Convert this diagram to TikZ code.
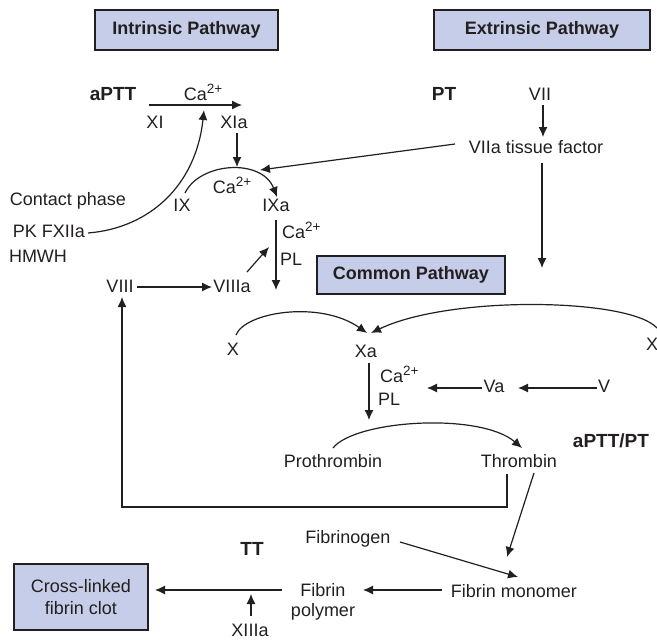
\documentclass[tikz,border=0pt]{standalone}
\usepackage{fontspec}
\setmainfont{Liberation Sans}
\usetikzlibrary{arrows.meta}
\definecolor{boxfill}{RGB}{197,205,232}
\definecolor{ink}{RGB}{35,31,32}
\newcommand{\catwo}{Ca\raisebox{0.36em}{\fontsize{13.5}{14}\selectfont 2+}}
\begin{document}
\begin{tikzpicture}[x=1pt,y=-1pt,
  font=\fontsize{18}{20}\selectfont,
  lbl/.style={inner sep=0pt, text=ink, anchor=base},
  lblw/.style={inner sep=0pt, text=ink, anchor=base west},
  bold/.style={lbl, font=\fontsize{19}{21}\selectfont\bfseries},
  pbox/.style={draw=ink, line width=1.4pt, fill=boxfill, text=ink, font=\fontsize{18}{20}\selectfont\bfseries, inner sep=0pt},
  arr/.style={draw=ink, line width=1.2pt, -{Latex[length=10pt,width=9pt]}},
  ln/.style={draw=ink, line width=1.2pt}]
\useasboundingbox (0,0) rectangle (657,640);

% boxes
\node[pbox, minimum width=183pt, minimum height=40pt] (intr) at (186.5,30) {Intrinsic Pathway};
\node[pbox, minimum width=216pt, minimum height=40pt] (extr) at (542,30) {Extrinsic Pathway};
\node[pbox, minimum width=188pt, minimum height=38pt] (comm) at (411,275) {Common Pathway};
\node[pbox, font=\fontsize{18}{22}\selectfont, align=center, minimum width=134pt, minimum height=66pt] (clot) at (81,597) {Cross-linked\\fibrin clot};

% labels
\node[bold] (aptt) at (113,100) {aPTT};
\node[lbl] (ca1) at (203,100) {\catwo};
\node[lbl] (XI) at (155,128) {XI};
\node[lbl] (XIa) at (234,128) {XIa};
\node[lbl] (ca2) at (232,193) {\catwo};
\node[lbl] (contact) at (68,205) {Contact phase};
\node[lbl] (IX) at (182,211) {IX};
\node[lbl] (IXa) at (276,211) {IXa};
\node[lbl] (pk) at (49,237) {PK FXIIa};
\node[lbl] (hmwh) at (38,262) {HMWH};
\node[lbl] (VIII) at (120,292) {VIII};
\node[lbl] (VIIIa) at (232,292) {VIIIa};
\node[lblw] (ca3) at (282,238) {\catwo};
\node[lblw] (pl1) at (280,265) {PL};
\node[bold] (pt) at (444,100) {PT};
\node[lbl] (VII) at (540,100) {VII};
\node[lbl] (VIIa) at (536,153) {VIIa tissue factor};
\node[lbl] (Xl) at (233,355) {X};
\node[lbl] (Xa) at (366,357) {Xa};
\node[lbl] (Xr) at (652,350) {X};
\node[lblw] (ca4) at (380,382) {\catwo};
\node[lblw] (pl2) at (378,405) {PL};
\node[lbl] (Va) at (494,392) {Va};
\node[lbl] (V) at (604,392) {V};
\node[lbl] (proth) at (333,467) {Prothrombin};
\node[lbl] (thromb) at (519,467) {Thrombin};
\node[bold] (apttpt) at (611,447) {aPTT/PT};
\node[lbl] (fibrinogen) at (348,543) {Fibrinogen};
\node[bold] (tt) at (252,555) {TT};
\node[lbl] (monomer) at (514,597) {Fibrin monomer};
\node[inner sep=0pt, text=ink, align=center] (polymer) at (323,602) {Fibrin\\polymer};
\node[lbl] (XIIIa) at (250,636) {XIIIa};

% connector end points
\coordinate (a1) at (149,105); \coordinate (a2) at (242,105);
\coordinate (b1) at (237,133); \coordinate (b2) at (237,167);
\coordinate (c1) at (185,193); \coordinate (c2) at (277,197);
\coordinate (d1) at (88,233);  \coordinate (d2) at (204,110);
\coordinate (e1) at (455,144); \coordinate (e2) at (260,170);
\coordinate (f1) at (543,105); \coordinate (f2) at (543,137);
\coordinate (g1) at (542,163); \coordinate (g2) at (542,268);
\coordinate (h1) at (276,220); \coordinate (h2) at (276,290);
\coordinate (i1) at (247,272); \coordinate (i2) at (269,247);
\coordinate (j1) at (137,287); \coordinate (j2) at (212,287);
\coordinate (k1) at (236,335); \coordinate (k2) at (367,333);
\coordinate (l1) at (657,328); \coordinate (l2) at (371,333);
\coordinate (m1) at (369,363); \coordinate (m2) at (369,420);
\coordinate (n1) at (482,388); \coordinate (n2) at (427,388);
\coordinate (o1) at (597,388); \coordinate (o2) at (518,388);
\coordinate (p1) at (333,448); \coordinate (p2) at (522,448);
\coordinate (q1) at (507,474); \coordinate (q2) at (122,297);
\coordinate (r1) at (534,473); \coordinate (r2) at (507,557);
\coordinate (s1) at (400,542); \coordinate (s2) at (518,577);
\coordinate (t1) at (442,590); \coordinate (t2) at (363,590);
\coordinate (u1) at (282,590); \coordinate (u2) at (155,590);
\coordinate (v1) at (251,616); \coordinate (v2) at (251,594);

% connectors
\draw[arr] (a1) -- (a2);
\draw[arr] (b1) -- (b2);
\draw[arr] (c1) .. controls (200,162) and (262,158) .. (c2);
\draw[arr] (d1) .. controls (150,228) and (196,185) .. (d2);
\draw[arr] (e1) -- (e2);
\draw[arr] (f1) -- (f2);
\draw[arr] (g1) -- (g2);
\draw[arr] (h1) -- (h2);
\draw[arr] (i1) -- (i2);
\draw[arr] (j1) -- (j2);
\draw[arr] (k1) .. controls (245,312) and (320,300) .. (k2);
\draw[arr] (l1) .. controls (630,298) and (450,295) .. (l2);
\draw[arr] (m1) -- (m2);
\draw[arr] (n1) -- (n2);
\draw[arr] (o1) -- (o2);
\draw[arr] (p1) .. controls (355,420) and (480,412) .. (p2);
\draw[arr] (q1) -- ++(0,33) -| (q2);
\draw[arr] (r1) -- (r2);
\draw[arr] (s1) -- (s2);
\draw[arr] (t1) -- (t2);
\draw[arr] (u1) -- (u2);
\draw[arr] (v1) -- (v2);
\end{tikzpicture}
\end{document}
